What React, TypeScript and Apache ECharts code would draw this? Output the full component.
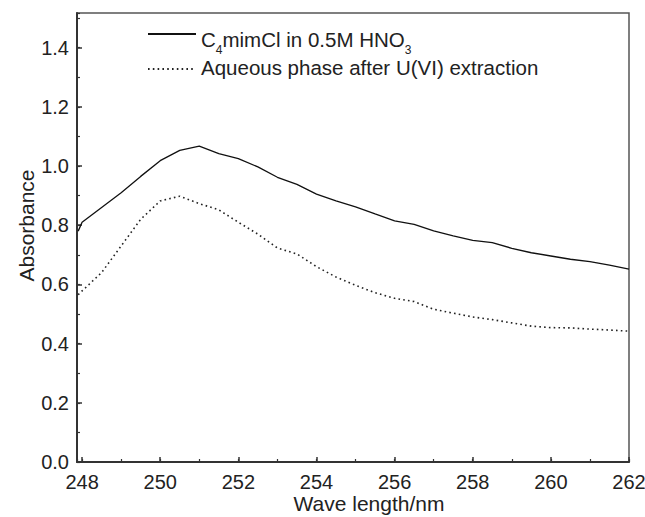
import React, { useEffect, useRef } from "react";
import * as echarts from "echarts";

const wavelengths = [
  247.9, 248.0, 248.5, 249.0, 249.5, 250.0, 250.5, 251.0, 251.5, 252.0,
  252.5, 253.0, 253.5, 254.0, 254.5, 255.0, 255.5, 256.0, 256.5, 257.0,
  257.5, 258.0, 258.5, 259.0, 259.5, 260.0, 260.5, 261.0, 261.5, 262.0,
];
const ilSolution = [
  0.78, 0.81, 0.86, 0.91, 0.965, 1.018, 1.053, 1.067, 1.042, 1.025,
  0.997, 0.962, 0.938, 0.905, 0.882, 0.862, 0.838, 0.815, 0.803, 0.781,
  0.764, 0.749, 0.741, 0.722, 0.707, 0.696, 0.685, 0.677, 0.665, 0.652,
];
const aqueousPhase = [
  0.565, 0.578, 0.64, 0.73, 0.82, 0.882, 0.898, 0.873, 0.852, 0.81,
  0.77, 0.723, 0.703, 0.66, 0.625, 0.597, 0.572, 0.553, 0.542, 0.516,
  0.503, 0.49, 0.481, 0.47, 0.459, 0.454, 0.453, 0.449, 0.446, 0.442,
];
const seriesNames = ["C4mimCl in 0.5M HNO3", "Aqueous phase after U(VI) extraction"];
const xTitle = "Wave length/nm";
const yTitle = "Absorbance";

const FONT = "'Liberation Sans', Arial, Helvetica, sans-serif";

export default function App() {
  const ref = useRef<HTMLDivElement>(null);
  useEffect(() => {
    if (!ref.current) return;
    const chart = echarts.init(ref.current, undefined, { renderer: "svg" });
    const axisColor = "#333";
    const textColor = "#222";
    const X_MIN = 247.87;
    const X_MAX = 262;
    const Y_MIN = 0;
    const Y_MAX = 1.517;
    chart.setOption({
      animation: false,
      backgroundColor: "#fff",
      textStyle: { fontFamily: FONT },
      grid: {
        left: 77,
        right: 16,
        top: 13,
        bottom: 55,
        outerBoundsMode: "none",
        containLabel: false,
        show: true,
        borderColor: "#555",
        borderWidth: 1.5,
        backgroundColor: "transparent",
      },
      legend: {
        orient: "vertical",
        left: 147,
        top: 22,
        itemWidth: 48,
        itemHeight: 14,
        itemGap: 1,
        padding: 0,
        data: seriesNames,
        itemStyle: { color: "transparent", borderColor: "transparent", borderWidth: 0 },
        formatter: (name: string) =>
          name === seriesNames[0]
            ? "{u|C}{s|4}{u|mimCl in 0.5M HNO}{s|3}"
            : "{t|Aqueous phase after U(VI) extraction}",
        textStyle: {
          fontFamily: FONT,
          color: textColor,
          fontSize: 20.5,
          rich: {
            t: { fontSize: 20.5, fontFamily: FONT, color: textColor, lineHeight: 24, verticalAlign: "top" },
            u: {
              fontSize: 20.5,
              fontFamily: FONT,
              color: textColor,
              lineHeight: 24,
              padding: [7, 0, 0, 0],
              verticalAlign: "top",
            },
            s: {
              fontSize: 12,
              fontFamily: FONT,
              color: textColor,
              lineHeight: 12,
              padding: [22, 0, 0, 0],
              verticalAlign: "top",
            },
          },
        },
      },
      xAxis: [
        {
          type: "value",
          min: X_MIN,
          max: X_MAX,
          splitNumber: 7,
          position: "bottom",
          name: xTitle,
          nameLocation: "middle",
          nameGap: 31,
          nameMoveOverlap: false,
          nameTextStyle: { fontSize: 21, color: textColor, fontFamily: FONT, padding: [0, 0, 0, 32] },
          axisLine: { show: true, onZero: false, lineStyle: { color: axisColor, width: 2 } },
          axisTick: { show: true, inside: true, length: 5, lineStyle: { color: axisColor, width: 1.5 } },
          axisLabel: {
            fontSize: 20,
            color: textColor,
            fontFamily: FONT,
            margin: 10,
            showMinLabel: false,
            formatter: (v: number) => String(Math.round(v)),
          },
          splitLine: { show: false },
        },
        {
          type: "value",
          min: X_MIN,
          max: X_MAX,
          splitNumber: 14,
          position: "bottom",
          offset: 0,
          axisLine: { show: false },
          axisTick: { show: true, inside: true, length: 3, lineStyle: { color: axisColor, width: 1.2 } },
          axisLabel: { show: false },
          splitLine: { show: false },
        },
      ],
      yAxis: [
        {
          type: "value",
          min: Y_MIN,
          max: Y_MAX,
          interval: 0.2,
          position: "left",
          name: yTitle,
          nameLocation: "middle",
          nameGap: 40,
          nameMoveOverlap: false,
          nameTextStyle: { fontSize: 21, color: textColor, fontFamily: FONT, padding: [0, 0, 0, 24] },
          axisLine: { show: true, onZero: false, lineStyle: { color: axisColor, width: 2 } },
          axisTick: { show: true, inside: true, length: 5, lineStyle: { color: axisColor, width: 1.5 } },
          axisLabel: {
            fontSize: 20,
            color: textColor,
            fontFamily: FONT,
            margin: 8,
            showMaxLabel: false,
            formatter: (v: number) => v.toFixed(1),
          },
          splitLine: { show: false },
        },
        {
          type: "value",
          min: Y_MIN,
          max: Y_MAX,
          interval: 0.1,
          position: "left",
          offset: 0,
          axisLine: { show: false },
          axisTick: { show: true, inside: true, length: 3, lineStyle: { color: axisColor, width: 1.2 } },
          axisLabel: { show: false },
          splitLine: { show: false },
        },
      ],
      series: [
        {
          name: seriesNames[0],
          type: "line",
          symbol: "none",
          xAxisIndex: 0,
          yAxisIndex: 0,
          data: wavelengths.map((x, i) => [x, ilSolution[i]]),
          lineStyle: { color: "#111", width: 1.3, type: "solid" },
          itemStyle: { color: "#111" },
        },
        {
          name: seriesNames[1],
          type: "line",
          symbol: "none",
          xAxisIndex: 0,
          yAxisIndex: 0,
          data: wavelengths.map((x, i) => [x, aqueousPhase[i]]),
          lineStyle: { color: "#222", width: 1.6, type: [1.6, 3.2] },
          itemStyle: { color: "#222" },
        },
      ],
    });
    return () => chart.dispose();
  }, []);
  return (
    <div
      ref={ref}
      style={{ position: "fixed", left: 0, top: 0, width: 645, height: 517, background: "#fff" }}
    />
  );
}
